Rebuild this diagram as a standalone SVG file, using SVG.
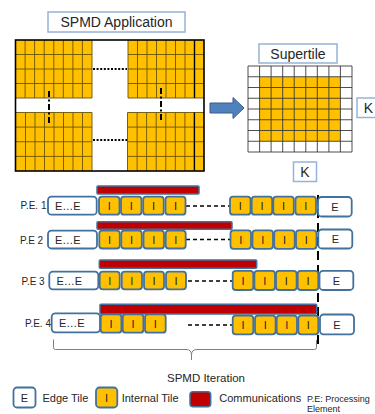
<svg xmlns="http://www.w3.org/2000/svg" width="375" height="414" viewBox="0 0 375 414">
<style>
text{font-family:"Liberation Sans",Arial,sans-serif;fill:#262626}
.lbl{fill:#fff;stroke:#95B3D7;stroke-width:1.5}
.blk{fill:#FFC000}
.gl{stroke:#6b5200;stroke-width:0.9;fill:none}
.sg{stroke:#3a3a3a;stroke-width:0.9;fill:none}
.edge{fill:#fff;stroke:#41719C;stroke-width:1.8}
.tile{fill:#FFC000;stroke:#41719C;stroke-width:1.8}
.comm{fill:#C00000;stroke:#41719C;stroke-width:1.5}
.dash{stroke:#000;stroke-width:1.4;stroke-dasharray:4 3;fill:none}
.t11{font-size:11px}
.ti{font-size:11px;text-anchor:middle}
.pe{font-size:10px}
</style>
<g id="app-title"><rect class="lbl" x="48" y="12" width="137" height="20"/><text x="116.5" y="27" font-size="14" text-anchor="middle">SPMD Application</text></g>
<g id="application">
<rect class="blk" x="15.5" y="40" width="76.5" height="58"/>
<path class="gl" d="M25.1 40V98M34.6 40V98M44.2 40V98M53.8 40V98M63.3 40V98M72.9 40V98M82.4 40V98M92 40V98M15.5 54.5H92M15.5 69H92M15.5 83.5H92M15.5 98H92"/>
<rect class="blk" x="128" y="40" width="76" height="58"/>
<path class="gl" d="M128 40V98M137.5 40V98M147 40V98M156.5 40V98M166 40V98M175.5 40V98M185 40V98M128 54.5H204M128 69H204M128 83.5H204M128 98H204"/>
<path d="M194.5 40V98" stroke="#000" stroke-width="1.4"/>
<rect class="blk" x="16" y="112.5" width="76" height="58.5"/>
<path class="gl" d="M25.5 112.5V171M35 112.5V171M44.5 112.5V171M54 112.5V171M63.5 112.5V171M73 112.5V171M82.5 112.5V171M92 112.5V171M16 112.5H92M16 127.1H92M16 141.75H92M16 156.4H92"/>
<rect class="blk" x="127.5" y="112.5" width="76.5" height="58.5"/>
<path class="gl" d="M127.5 112.5V171M137.1 112.5V171M146.6 112.5V171M156.2 112.5V171M165.8 112.5V171M175.3 112.5V171M184.9 112.5V171M127.5 112.5H204M127.5 127.1H204M127.5 141.75H204M127.5 156.4H204"/>
<path d="M194.4 112.5V171" stroke="#000" stroke-width="1.4"/>
<rect x="15.5" y="40" width="188.5" height="131" fill="none" stroke="#000" stroke-width="1.6"/>
<path d="M93 69H127M93 140H127" stroke="#000" stroke-width="2" stroke-dasharray="2 1.6"/>
<path d="M49 91V125M161 88V122" stroke="#000" stroke-width="2" stroke-dasharray="6 2.5 2 2.5"/>
</g>
<g id="arrow"><polygon points="210,103 233,103 233,97.5 244,108 233,118.5 233,113 210,113" fill="#4F81BD" stroke="#385D8A" stroke-width="1"/></g>
<g id="supertile-title"><rect class="lbl" x="259" y="44" width="78" height="19"/><text x="298" y="58.5" font-size="14" text-anchor="middle">Supertile</text></g>
<g id="supertile">
<rect x="248" y="66" width="104" height="86" fill="#fff"/>
<rect x="259.6" y="76.75" width="80.8" height="64.5" fill="#FFC000"/>
<path class="sg" d="M248 66V152M259.6 66V152M271.1 66V152M282.7 66V152M294.2 66V152M305.8 66V152M317.3 66V152M328.9 66V152M340.4 66V152M352 66V152M248 66H352M248 76.75H352M248 87.5H352M248 98.25H352M248 109H352M248 119.75H352M248 130.5H352M248 141.25H352M248 152H352"/>
</g>
<g id="k-right"><rect class="lbl" x="357" y="98" width="30" height="19.5"/><text x="368.5" y="112.5" font-size="14" text-anchor="middle">K</text></g>
<g id="k-bottom"><rect class="lbl" x="293.5" y="162" width="23" height="19.5"/><text x="305" y="176.5" font-size="14" text-anchor="middle">K</text></g>
<g id="connectors">
<path class="dash" d="M186 206H230M186 239.5H230.5M188 281H232.5M188 325H232.5"/>
<path d="M318 195V346" stroke="#000" stroke-width="2" stroke-dasharray="9 5"/>
<path d="M53.5 339.5V347.5Q53.5 349.5 55.5 349.5H186Q191.5 349.5 191.5 355V360M197 349.5Q191.5 349.5 191.5 355M197 349.5H314.5Q316.5 349.5 316.5 347.5V340" stroke="#7f7f7f" stroke-width="1" fill="none"/>
</g>
<g id="pe1">
<text class="pe" x="20.5" y="209">P.E. 1</text>
<rect class="comm" x="97" y="186" width="102" height="8" rx="1"/>
<rect class="edge" x="48" y="196.7" width="48.7" height="18" rx="3.5"/><text class="t11" x="55" y="209.7">E…E</text>
<rect class="tile" x="99" y="196.7" width="20.5" height="18" rx="3"/><text class="ti" x="109.2" y="209.7">I</text>
<rect class="tile" x="121" y="196.7" width="20.5" height="18" rx="3"/><text class="ti" x="131.2" y="209.7">I</text>
<rect class="tile" x="143.2" y="196.7" width="20.5" height="18" rx="3"/><text class="ti" x="153.5" y="209.7">I</text>
<rect class="tile" x="165.5" y="196.7" width="20" height="18" rx="3"/><text class="ti" x="175.5" y="209.7">I</text>
<rect class="tile" x="230" y="196.7" width="20.5" height="18" rx="3"/><text class="ti" x="240.2" y="209.7">I</text>
<rect class="tile" x="251.7" y="196.7" width="20.5" height="18" rx="3"/><text class="ti" x="262" y="209.7">I</text>
<rect class="tile" x="273.3" y="196.7" width="20.5" height="18" rx="3"/><text class="ti" x="283.5" y="209.7">I</text>
<rect class="tile" x="295.5" y="196.7" width="20.5" height="18" rx="3"/><text class="ti" x="305.7" y="209.7">I</text>
<rect class="edge" x="318" y="197" width="33.7" height="19.5" rx="3.5"/><text class="ti" x="334.8" y="210.5">E</text>
</g>
<g id="pe2">
<text class="pe" x="20" y="243.5">P.E 2</text>
<rect class="comm" x="97" y="221.7" width="135" height="7.5" rx="1"/>
<rect class="edge" x="48" y="230.7" width="49" height="17.8" rx="3.5"/><text class="t11" x="55" y="243.5">E…E</text>
<rect class="tile" x="99.3" y="230.7" width="20.5" height="17.8" rx="3"/><text class="ti" x="109.5" y="243.5">I</text>
<rect class="tile" x="121.3" y="230.7" width="20.5" height="17.8" rx="3"/><text class="ti" x="131.5" y="243.5">I</text>
<rect class="tile" x="143.5" y="230.7" width="20.5" height="17.8" rx="3"/><text class="ti" x="153.7" y="243.5">I</text>
<rect class="tile" x="165.7" y="230.7" width="20" height="17.8" rx="3"/><text class="ti" x="175.7" y="243.5">I</text>
<rect class="tile" x="230.5" y="230.3" width="20.5" height="18.5" rx="3"/><text class="ti" x="240.7" y="243.5">I</text>
<rect class="tile" x="252.5" y="230.3" width="20.5" height="18.5" rx="3"/><text class="ti" x="262.7" y="243.5">I</text>
<rect class="tile" x="274.2" y="230.3" width="20.5" height="18.5" rx="3"/><text class="ti" x="284.5" y="243.5">I</text>
<rect class="tile" x="296" y="230.3" width="20.5" height="18.5" rx="3"/><text class="ti" x="306.2" y="243.5">I</text>
<rect class="edge" x="318.3" y="229.5" width="34" height="19" rx="3.5"/><text class="ti" x="335.3" y="243">E</text>
</g>
<g id="pe3">
<text class="pe" x="21.5" y="284.5">P.E 3</text>
<rect class="comm" x="99.3" y="260" width="157.4" height="8.3" rx="1"/>
<rect class="edge" x="49.3" y="271.7" width="49" height="17.6" rx="3.5"/><text class="t11" x="56.5" y="284.5">E…E</text>
<rect class="tile" x="99.7" y="271.7" width="20" height="17.6" rx="3"/><text class="ti" x="109.7" y="284.5">I</text>
<rect class="tile" x="121.7" y="271.7" width="20.3" height="17.6" rx="3"/><text class="ti" x="131.8" y="284.5">I</text>
<rect class="tile" x="144" y="271.7" width="20" height="17.6" rx="3"/><text class="ti" x="154" y="284.5">I</text>
<rect class="tile" x="166" y="271.7" width="20" height="17.6" rx="3"/><text class="ti" x="176" y="284.5">I</text>
<rect class="tile" x="232.7" y="270.8" width="20.6" height="19.2" rx="3"/><text class="ti" x="243" y="284.5">I</text>
<rect class="tile" x="254.4" y="270.8" width="20.6" height="19.2" rx="3"/><text class="ti" x="264.7" y="284.5">I</text>
<rect class="tile" x="276" y="270.8" width="20.6" height="19.2" rx="3"/><text class="ti" x="286.3" y="284.5">I</text>
<rect class="tile" x="297.7" y="270.8" width="20.6" height="19.2" rx="3"/><text class="ti" x="308" y="284.5">I</text>
<rect class="edge" x="319.5" y="270.8" width="33.8" height="19.2" rx="3.5"/><text class="ti" x="336.4" y="284.5">E</text>
</g>
<g id="pe4">
<text class="pe" x="25" y="326.5">P.E. 4</text>
<rect class="comm" x="100" y="304.3" width="216.7" height="9.7" rx="1"/>
<rect class="edge" x="51.7" y="313.3" width="48.3" height="19" rx="3.5"/><text class="t11" x="59" y="327">E…E</text>
<rect class="tile" x="100.7" y="314.3" width="20.7" height="18.4" rx="3"/><text class="ti" x="111" y="327.5">I</text>
<rect class="tile" x="122.7" y="314.3" width="20.7" height="18.4" rx="3"/><text class="ti" x="133" y="327.5">I</text>
<rect class="tile" x="145" y="314.3" width="20.7" height="18.4" rx="3"/><text class="ti" x="155.3" y="327.5">I</text>
<rect class="tile" x="232.7" y="315.7" width="20.6" height="18.6" rx="3"/><text class="ti" x="243" y="329">I</text>
<rect class="tile" x="255" y="315.7" width="20.6" height="18.6" rx="3"/><text class="ti" x="265.3" y="329">I</text>
<rect class="tile" x="276.7" y="315.7" width="20.3" height="18.6" rx="3"/><text class="ti" x="286.8" y="329">I</text>
<rect class="tile" x="298.3" y="315.7" width="20" height="18.6" rx="3"/><text class="ti" x="308.3" y="329">I</text>
<rect class="edge" x="320" y="314.5" width="34" height="19.8" rx="3.5"/><text class="ti" x="337" y="328.5">E</text>
</g>
<g id="iteration-label"><text x="206" y="381.5" font-size="11.5" text-anchor="middle">SPMD Iteration</text></g>
<g id="legend">
<rect class="edge" x="13.5" y="387.5" width="22" height="20" rx="3.5"/><text class="ti" x="24.5" y="401.5">E</text>
<text class="t11" x="42.5" y="402">Edge Tile</text>
<rect class="tile" x="96" y="387.5" width="21.3" height="20" rx="3.5"/><text class="ti" x="106.6" y="401.5">I</text>
<text class="t11" x="121.7" y="402">Internal Tile</text>
<rect class="comm" x="190" y="391.7" width="20.7" height="15" rx="3"/>
<text class="t11" x="219.3" y="402">Communications</text>
<text x="307" y="401.5" font-size="9">P.E: Processing</text>
<text x="307" y="412" font-size="9">Element</text>
</g>
</svg>
